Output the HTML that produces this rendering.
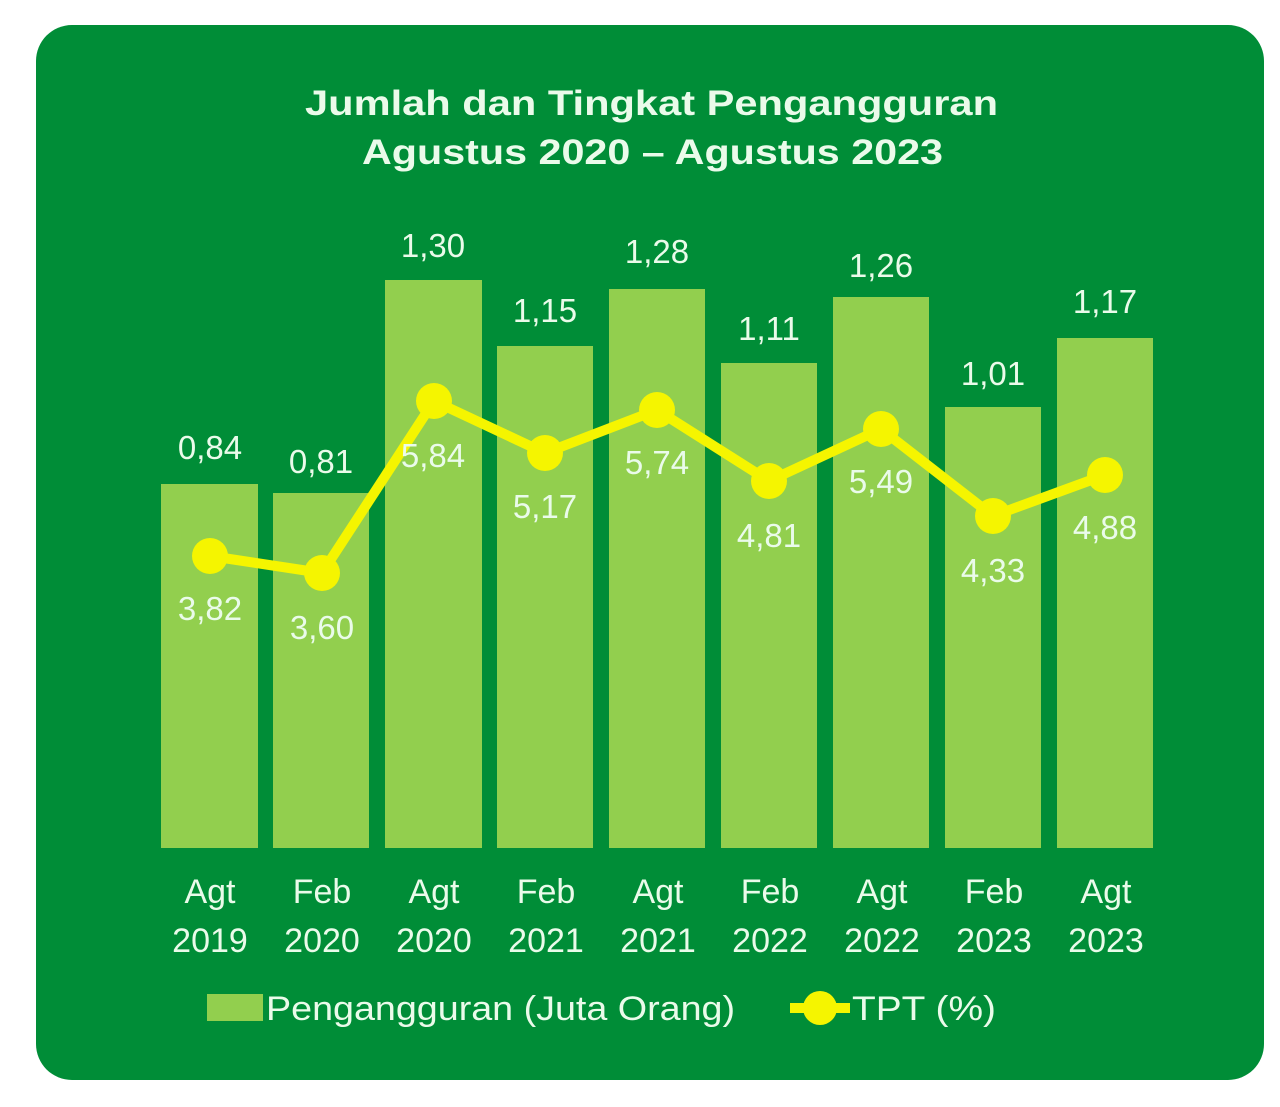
<!DOCTYPE html>
<html><head><meta charset="utf-8"><style>
html,body{margin:0;padding:0;background:#fff;}
svg{display:block;}
text{font-family:"Liberation Sans",sans-serif;fill:#eafbea;}
</style></head><body>
<svg width="1280" height="1107" viewBox="0 0 1280 1107">
<rect x="0" y="0" width="1280" height="1107" fill="#ffffff"/>
<rect x="36" y="25" width="1228" height="1055" rx="36" fill="#008d37"/>
<g font-size="35" font-weight="bold">
<text x="305" y="115" textLength="693" lengthAdjust="spacingAndGlyphs">Jumlah dan Tingkat Pengangguran</text>
<text x="362" y="164" textLength="581" lengthAdjust="spacingAndGlyphs">Agustus 2020 – Agustus 2023</text>
</g>
<g fill="#92cf4e">
<rect x="161" y="484" width="97" height="364"/>
<rect x="273" y="493" width="96" height="355"/>
<rect x="385" y="280" width="97" height="568"/>
<rect x="497" y="346" width="96" height="502"/>
<rect x="609" y="289" width="96" height="559"/>
<rect x="721" y="363" width="96" height="485"/>
<rect x="833" y="297" width="96" height="551"/>
<rect x="945" y="407" width="96" height="441"/>
<rect x="1057" y="338" width="96" height="510"/>
</g>
<g font-size="33" text-anchor="middle">
<text x="210" y="459">0,84</text>
<text x="321" y="473">0,81</text>
<text x="433" y="257">1,30</text>
<text x="545" y="322">1,15</text>
<text x="657" y="263">1,28</text>
<text x="769" y="340">1,11</text>
<text x="881" y="277">1,26</text>
<text x="993" y="385">1,01</text>
<text x="1105" y="313">1,17</text>
</g>
<polyline points="210,556 322,573 434,401 545,453 657,410 769,481 881,429 993,516 1105,475" fill="none" stroke="#f5f500" stroke-width="10" stroke-linejoin="round"/>
<g fill="#f5f500">
<circle cx="210" cy="556" r="18"/><circle cx="322" cy="573" r="18"/><circle cx="434" cy="401" r="18"/>
<circle cx="545" cy="453" r="18"/><circle cx="657" cy="410" r="18"/><circle cx="769" cy="481" r="18"/>
<circle cx="881" cy="429" r="18"/><circle cx="993" cy="516" r="18"/><circle cx="1105" cy="475" r="18"/>
</g>
<g font-size="33" text-anchor="middle">
<text x="210" y="620">3,82</text>
<text x="322" y="639">3,60</text>
<text x="433" y="467">5,84</text>
<text x="545" y="518">5,17</text>
<text x="657" y="474">5,74</text>
<text x="769" y="547">4,81</text>
<text x="881" y="493">5,49</text>
<text x="993" y="582">4,33</text>
<text x="1105" y="539">4,88</text>
</g>
<g font-size="34" text-anchor="middle">
<text x="210" y="903">Agt</text><text x="210" y="952">2019</text>
<text x="322" y="903">Feb</text><text x="322" y="952">2020</text>
<text x="434" y="903">Agt</text><text x="434" y="952">2020</text>
<text x="546" y="903">Feb</text><text x="546" y="952">2021</text>
<text x="658" y="903">Agt</text><text x="658" y="952">2021</text>
<text x="770" y="903">Feb</text><text x="770" y="952">2022</text>
<text x="882" y="903">Agt</text><text x="882" y="952">2022</text>
<text x="994" y="903">Feb</text><text x="994" y="952">2023</text>
<text x="1106" y="903">Agt</text><text x="1106" y="952">2023</text>
</g>
<rect x="207" y="994" width="56" height="27" fill="#92cf4e"/>
<text x="266" y="1020" font-size="34" textLength="469" lengthAdjust="spacingAndGlyphs">Pengangguran (Juta Orang)</text>
<line x1="790" y1="1008" x2="850" y2="1008" stroke="#f5f500" stroke-width="10"/>
<circle cx="820" cy="1008" r="17" fill="#f5f500"/>
<text x="852" y="1020" font-size="34" textLength="144" lengthAdjust="spacingAndGlyphs">TPT (%)</text>
</svg>
</body></html>
